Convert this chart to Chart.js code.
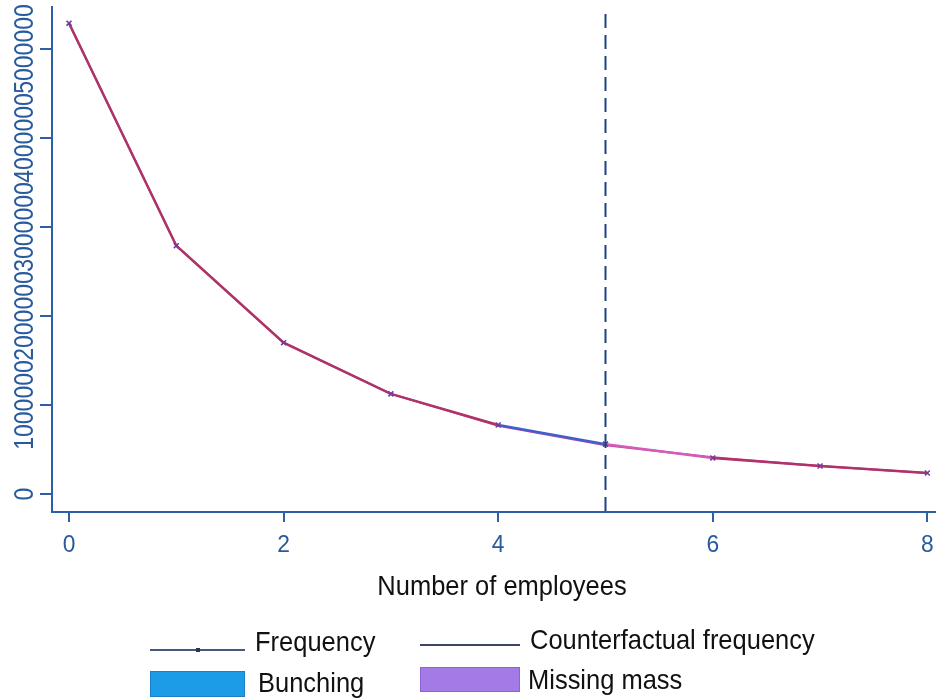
<!DOCTYPE html>
<html>
<head>
<meta charset="utf-8">
<script src="https://cdn.jsdelivr.net/npm/chart.js@4/dist/chart.umd.min.js"></script>
<style>
  html, body { margin: 0; padding: 0; background: #fff; }
  #wrap { width: 936px; height: 700px; }
</style>
</head>
<body>
<div id="wrap"><canvas id="c" width="936" height="700"></canvas></div>
<script>
// Firm-size distribution around the 5-employee threshold
const employees = [0, 1, 2, 3, 4, 5, 6, 7, 8];
const frequency = [5290000, 2790000, 1700000, 1125000, 775000, 560000, 405000, 315000, 236000];
const counterfactual = [5290000, 2790000, 1700000, 1125000, 768000, 548000, 412000, 315000, 236000];
const xTickValues = [0, 2, 4, 6, 8];
const yTickValues = [0, 1000000, 2000000, 3000000, 4000000, 5000000];
const threshold = 5;
const bunchingStart = 4;
const xTitle = 'Number of employees';
const legendLabels = ['Frequency', 'Counterfactual frequency', 'Bunching', 'Missing mass'];

const axisBlue = '#2c5fa6';
const labelBlue = '#285a9e';
const bunchColor = '#1c9ce6';
const missingColor = '#a47ae6';
const FONT = '"Liberation Sans", Arial, sans-serif';

function drawText(ctx, text, x, y, size, sx, color, align) {
  ctx.save();
  ctx.font = size + 'px ' + FONT;
  ctx.fillStyle = color;
  ctx.textAlign = align || 'left';
  ctx.textBaseline = 'alphabetic';
  ctx.translate(x, y);
  ctx.scale(sx, 1);
  ctx.fillText(text, 0, 0);
  ctx.restore();
}

// Dashed threshold line, tick labels, axis title and legend
const decorations = {
  id: 'decorations',
  afterDatasetsDraw(chart) {
    const { ctx, chartArea, scales } = chart;
    const px = scales.x.getPixelForValue(threshold);
    ctx.save();
    ctx.strokeStyle = '#1c4280';
    ctx.lineWidth = 2;
    ctx.setLineDash([14, 7]);
    ctx.beginPath();
    ctx.moveTo(px, chartArea.top + 7);
    ctx.lineTo(px, chartArea.bottom);
    ctx.stroke();
    ctx.restore();
  },
  afterDraw(chart) {
    const { ctx, scales, chartArea, width } = chart;
    // x axis line runs to the canvas edge
    ctx.save();
    ctx.strokeStyle = axisBlue;
    ctx.lineWidth = 2;
    ctx.beginPath();
    ctx.moveTo(chartArea.right - 1, chartArea.bottom);
    ctx.lineTo(width, chartArea.bottom);
    ctx.stroke();
    ctx.restore();
    // y tick labels, reading bottom to top
    yTickValues.forEach(v => {
      const py = scales.y.getPixelForValue(v);
      ctx.save();
      ctx.translate(0, py);
      ctx.rotate(-Math.PI / 2);
      ctx.scale(0.82, 1);
      ctx.font = '28px ' + FONT;
      ctx.fillStyle = labelBlue;
      ctx.textAlign = 'center';
      ctx.textBaseline = 'alphabetic';
      ctx.fillText(String(v), 0, 32.5);
      ctx.restore();
    });
    // x tick labels
    xTickValues.forEach(v => {
      drawText(ctx, String(v), scales.x.getPixelForValue(v), 552, 24, 0.95, labelBlue, 'center');
    });
    // x axis title
    drawText(ctx, xTitle, 502, 595, 28, 0.91, '#111', 'center');

    // legend
    ctx.save();
    ctx.lineWidth = 2;
    ctx.strokeStyle = '#47587a';
    ctx.beginPath(); ctx.moveTo(150, 650); ctx.lineTo(245, 650); ctx.stroke();
    ctx.fillStyle = '#2a3550';
    ctx.fillRect(196, 648, 4, 4);
    ctx.strokeStyle = '#3d4566';
    ctx.beginPath(); ctx.moveTo(420, 645); ctx.lineTo(520, 645); ctx.stroke();
    ctx.fillStyle = bunchColor; ctx.fillRect(150, 671, 95, 26);
    ctx.strokeStyle = '#1a80c8'; ctx.lineWidth = 1; ctx.strokeRect(150.5, 671.5, 94, 25);
    ctx.fillStyle = missingColor; ctx.fillRect(420, 667, 100, 25);
    ctx.strokeStyle = '#8c62d6'; ctx.strokeRect(420.5, 667.5, 99, 24);
    ctx.restore();
    drawText(ctx, legendLabels[0], 255, 651, 28, 0.91, '#111');
    drawText(ctx, legendLabels[1], 530, 649, 28, 0.91, '#111');
    drawText(ctx, legendLabels[2], 258, 692, 28, 0.91, '#111');
    drawText(ctx, legendLabels[3], 528, 689, 28, 0.91, '#111');
  }
};

const segColor = c => {
  const x0 = c.p0.parsed.x;
  if (x0 === bunchingStart) return '#3f5fcc';
  if (x0 === threshold) return '#d35cb8';
  return undefined;
};

new Chart(document.getElementById('c'), {
  type: 'line',
  data: {
    labels: employees,
    datasets: [
      {
        label: legendLabels[0],
        data: employees.map((x, i) => ({ x, y: frequency[i] })),
        borderColor: '#ae3369',
        borderWidth: 2.5,
        pointStyle: 'crossRot',
        pointRadius: 3.5,
        pointBorderWidth: 1.6,
        pointBorderColor: '#703c98',
        segment: { borderColor: segColor },
        fill: { target: 1, above: bunchColor, below: missingColor },
        order: 0
      },
      {
        label: legendLabels[1],
        data: employees.map((x, i) => ({ x, y: counterfactual[i] })),
        borderColor: '#c9479a',
        borderWidth: 2,
        pointRadius: 0,
        fill: false,
        order: 1
      }
    ]
  },
  options: {
    responsive: false,
    animation: false,
    layout: { padding: { top: 7, left: 0, right: 0, bottom: 0 } },
    plugins: { legend: { display: false }, tooltip: { enabled: false } },
    scales: {
      x: {
        type: 'linear',
        min: -0.1585,
        max: 8.028,
        afterBuildTicks: s => { s.ticks = xTickValues.map(value => ({ value })); },
        afterFit: s => { s.height = 188; },
        grid: { drawOnChartArea: false, drawTicks: true, tickLength: 10, color: axisBlue, lineWidth: 2 },
        border: { display: true, color: axisBlue, width: 2 },
        ticks: { display: false }
      },
      y: {
        type: 'linear',
        min: -202200,
        max: 5472000,
        afterBuildTicks: s => { s.ticks = yTickValues.map(value => ({ value })); },
        afterFit: s => { s.width = 52; },
        grid: { drawOnChartArea: false, drawTicks: true, tickLength: 12, color: axisBlue, lineWidth: 2 },
        border: { display: true, color: axisBlue, width: 2 },
        ticks: { display: false }
      }
    }
  },
  plugins: [decorations]
});
</script>
</body>
</html>
